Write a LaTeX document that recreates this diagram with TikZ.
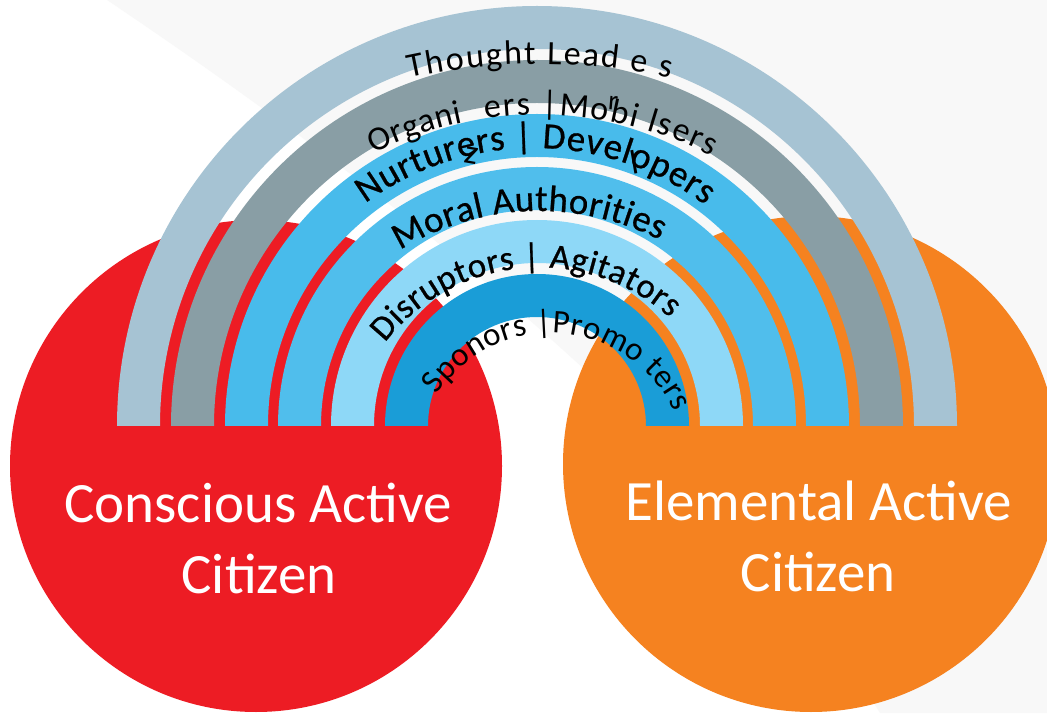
\documentclass[tikz,border=0pt]{standalone}
\usepackage{fontspec}
\setmainfont{Carlito}
\newfontfamily\semibfont[FakeBold=0.7]{Carlito}
\usetikzlibrary{decorations.text}
\definecolor{cred}{HTML}{ED1C24}
\definecolor{corange}{HTML}{F58220}
\definecolor{bthought}{HTML}{A6C3D3}
\definecolor{borg}{HTML}{899EA5}
\definecolor{bnurt}{HTML}{48BBEB}
\definecolor{bmoral}{HTML}{50BEEC}
\definecolor{bdisr}{HTML}{8ED8F7}
\definecolor{bspon}{HTML}{1A9DD7}
\definecolor{bggray}{HTML}{F8F8F8}
\newcommand\rainband[3]{%
  \fill[#1] ([shift={(0:#2)}]bc) arc[start angle=0,end angle=180,radius=#2]
    -- ([shift={(180:#3)}]bc) arc[start angle=180,end angle=0,radius=#3] -- cycle;}
\begin{document}
\begin{tikzpicture}[x=1pt,y=1pt,
  arctext/.style={decorate, decoration={text along path,
      text format delimiters={<}{>}, text align=fit to path, text={#1}}},
  citlabel/.style={text=white, font=\fontsize{57}{68}\selectfont, inner sep=0pt, anchor=base},
  strayglyph/.style={inner sep=0pt, text=black}]
\useasboundingbox (0,0) rectangle (1047,713);
\begin{scope}
\clip (0,0) rectangle (1047,713);
% background
\fill[white] (0,0) rectangle (1047,713);
\fill[bggray] (107,713) .. controls (330,563) and (700,293) .. (880,0) -- (1047,0) -- (1047,713) -- cycle;
% circles
\fill[cred] (256,247) circle[radius=246];
\fill[corange] (811,249) circle[radius=248];
% rainbow bands
\coordinate (bc) at (537,287);
\rainband{bthought}{420}{377}
\rainband{borg}{366}{323}
\rainband{bnurt}{312}{269}
\rainband{bmoral}{259}{216}
\rainband{bdisr}{206}{163}
\rainband{bspon}{152}{109}
% text centres
\coordinate (tcThought) at (540,38);
\coordinate (tcOrg) at (540,217);
\coordinate (tcNurt) at (534,280);
\coordinate (tcMoral) at (539,236);
\coordinate (tcDisr) at (539,250);
\coordinate (tcSpon) at (551,244);
\path[arctext={<\fontsize{34}{34}\selectfont>Thought Lead e s}]
  ([shift={(102.3:611)}]tcThought) arc[start angle=102.3,end angle=77.7,radius=611];
\path[arctext={<\fontsize{34}{34}\selectfont>Organi}]
  ([shift={(115.9:381)}]tcOrg) arc[start angle=115.9,end angle=101.6,radius=381];
\path[arctext={<\fontsize{34}{34}\selectfont>ers |Mobi lsers}]
  ([shift={(98.3:381)}]tcOrg) arc[start angle=98.3,end angle=63.2,radius=381];
\path[arctext={<\semibfont\fontsize{37}{37}\selectfont>Nurturers | Developers}]
  ([shift={(126.3:285)}]tcNurt) arc[start angle=126.3,end angle=53.1,radius=285];
\path[arctext={<\semibfont\fontsize{37}{37}\selectfont>Moral Authorities}]
  ([shift={(121.5:266)}]tcMoral) arc[start angle=121.5,end angle=63,radius=266];
\path[arctext={<\semibfont\fontsize{35}{35}\selectfont>Disruptors | Agitators}]
  ([shift={(142:195.5)}]tcDisr) arc[start angle=142,end angle=47.9,radius=195.5];
\path[arctext={<\fontsize{33}{33}\selectfont>Sponors |Promo ters}]
  ([shift={(147:136)}]tcSpon) arc[start angle=147,end angle=24.7,radius=136];
% stray glyphs
\node[strayglyph, rotate=-10, font=\fontsize{34}{34}\selectfont] (strz) at (472,557) {z};
\node[strayglyph, rotate=-5, font=\fontsize{28}{28}\selectfont] (strr) at (613,610) {r};
\node[strayglyph, rotate=10, font=\fontsize{34}{34}\selectfont] (strl) at (634,551) {l};
% circle labels
\node[citlabel] (cac1) at (258,191) {Conscious Active};
\node[citlabel] (cac2) at (259,120) {Citizen};
\node[citlabel] (eac1) at (819,193) {Elemental Active};
\node[citlabel] (eac2) at (818,122) {Citizen};
\end{scope}
\end{tikzpicture}
\end{document}
